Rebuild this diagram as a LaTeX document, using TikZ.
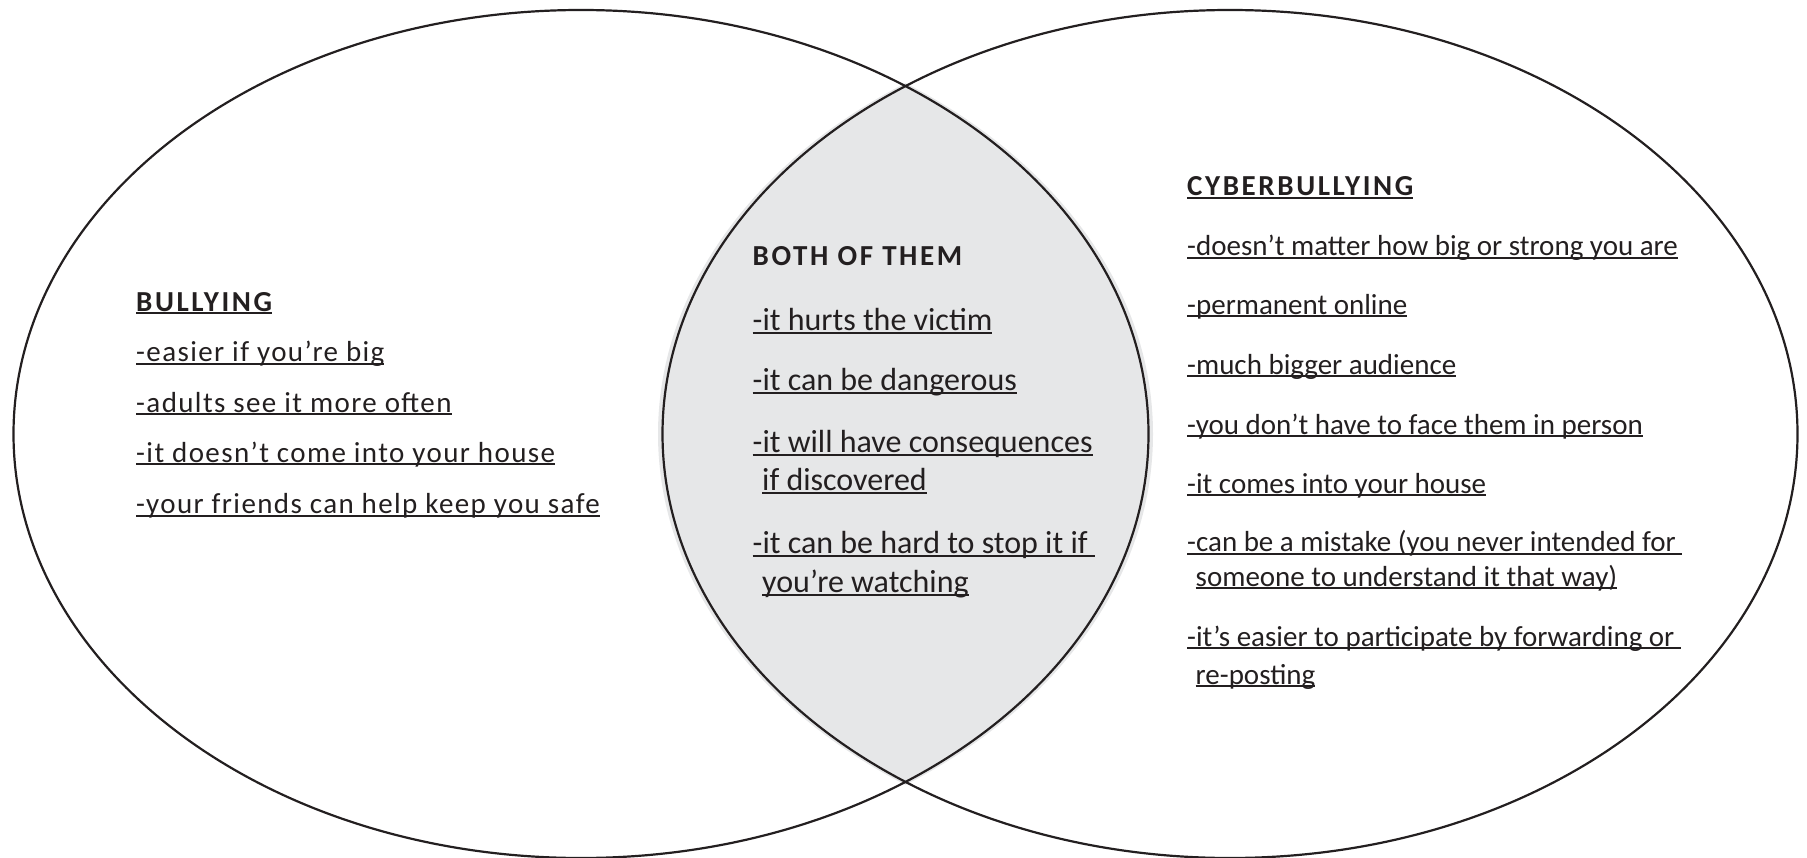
\documentclass[tikz,border=0pt]{standalone}
\usepackage{fontspec}
\setmainfont{Carlito}
\newfontfamily\headfont[LetterSpace=9]{Carlito}
\newfontfamily\widefont[LetterSpace=4.8]{Carlito}
\definecolor{inkgray}{HTML}{231F20}
\definecolor{lensgray}{HTML}{E6E7E8}
\newsavebox{\ulbox}
% underline at a fixed depth, through the descenders
\newcommand{\ulx}[1]{\sbox{\ulbox}{#1}\rlap{\rule[-0.10em]{\wd\ulbox}{0.065em}}\usebox{\ulbox}}

\begin{document}
\begin{tikzpicture}[x=1pt,y=-1pt]
\tikzset{every node/.style={inner sep=0pt, text=inkgray},
  item/.style={anchor=mid west, font=\fontsize{29}{34}\selectfont},
  witem/.style={anchor=mid west, font=\fontsize{29}{34}\widefont},
  bitem/.style={anchor=mid west, font=\fontsize{32}{38}\selectfont},
  head/.style={anchor=mid west, font=\fontsize{29}{34}\headfont\bfseries},
  ring/.style={draw=inkgray, line width=2.2pt}}
\useasboundingbox (0,0) rectangle (1807,858);
% shaded overlap
\begin{scope}
\clip (581,434) ellipse [x radius=572pt, y radius=426pt];
\fill [lensgray] (1230,434) ellipse [x radius=572pt, y radius=426pt];
\end{scope}
\draw [ring] (581,434) ellipse [x radius=567.5pt, y radius=424pt];
\draw [ring] (1230,434) ellipse [x radius=567.5pt, y radius=424pt];
% left set
\node [head] (bully) at (136,309) {\ulx{BULLYING}};
\node [witem] (b1) at (136,359.5) {\ulx{-easier if you’re big}};
\node [witem] (b2) at (136,410) {\ulx{-adults see it more often}};
\node [witem] (b3) at (136,460) {\ulx{-it doesn’t come into your house}};
\node [witem] (b4) at (136,511.5) {\ulx{-your friends can help keep you safe}};
% overlap
\node [head] (both) at (752.5,263) {BOTH OF THEM};
\node [bitem] (o1) at (752.5,328) {\ulx{-it hurts the victim}};
\node [bitem] (o2) at (752.5,388) {\ulx{-it can be dangerous}};
\node [bitem] (o3) at (752.5,450.5) {\ulx{-it will have consequences}};
\node [bitem] (o3b) at (762,488.5) {\ulx{if discovered}};
\node [bitem] (o4) at (752.5,551) {\ulx{-it can be hard to stop it if\ }};
\node [bitem] (o4b) at (762,590) {\ulx{you’re watching}};
% right set
\node [head] (cyber) at (1187,193.5) {\ulx{CYBERBULLYING}};
\node [item] (c1) at (1187,253.5) {\ulx{-doesn’t matter how big or strong you are}};
\node [item] (c2) at (1187,312) {\ulx{-permanent online}};
\node [item] (c3) at (1187,372) {\ulx{-much bigger audience}};
\node [item] (c4) at (1187,432) {\ulx{-you don’t have to face them in person}};
\node [item] (c5) at (1187,491) {\ulx{-it comes into your house}};
\node [item] (c6) at (1187,549.5) {\ulx{-can be a mistake (you never intended for\ }};
\node [item] (c6b) at (1195.5,584) {\ulx{someone to understand it that way)}};
\node [item] (c7) at (1187,644) {\ulx{-it’s easier to participate by forwarding or\ }};
\node [item] (c7b) at (1195.5,682) {\ulx{re-posting}};
\end{tikzpicture}
\end{document}
